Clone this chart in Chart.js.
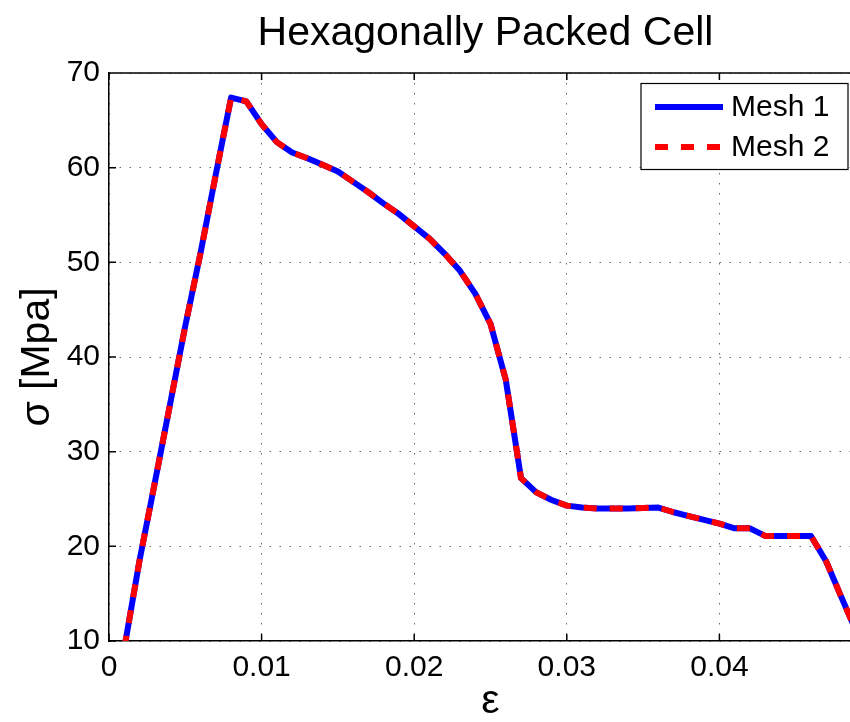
<!DOCTYPE html>
<html>
<head>
<meta charset="utf-8">
<title>Hexagonally Packed Cell</title>
<script src="https://cdn.jsdelivr.net/npm/chart.js@4.4.0/dist/chart.umd.min.js"></script>
<style>
    html, body { margin: 0; padding: 0; background: #fff; overflow: hidden; }
    #wrap { width: 900px; height: 722px; }
</style>
</head>
<body>
<div id="wrap"><canvas id="stress-chart" width="900" height="722"></canvas></div>
<script>
// Strain values (x axis)
const strain = [
    0.001, 0.002, 0.003, 0.004, 0.005, 0.006, 0.007, 0.008, 0.009, 0.010,
    0.011, 0.012, 0.013, 0.014, 0.015, 0.016, 0.017, 0.018, 0.019, 0.020,
    0.021, 0.022, 0.023, 0.024, 0.025, 0.026, 0.027, 0.028, 0.029, 0.030,
    0.031, 0.032, 0.033, 0.034, 0.035, 0.036, 0.037, 0.038, 0.039, 0.040,
    0.041, 0.042, 0.043, 0.044, 0.045, 0.046, 0.047, 0.048, 0.049
];

// Stress [MPa] for each mesh
const mesh1 = [
    9.2, 18.5, 26.7, 35.0, 43.3, 51.0, 59.3, 67.4, 67.0, 64.6,
    62.7, 61.6, 61.0, 60.3, 59.6, 58.5, 57.4, 56.2, 55.1, 53.8,
    52.5, 50.9, 49.1, 46.7, 43.5, 37.6, 27.2, 25.7, 24.9, 24.3,
    24.1, 24.0, 24.0, 24.0, 24.05, 24.1, 23.6, 23.2, 22.8, 22.4,
    21.9, 21.9, 21.1, 21.1, 21.1, 21.1, 18.4, 14.6, 10.9
];
const mesh2 = [
    9.2, 18.5, 26.7, 35.0, 43.3, 51.0, 59.3, 67.4, 67.0, 64.6,
    62.7, 61.6, 61.0, 60.3, 59.6, 58.5, 57.4, 56.2, 55.1, 53.8,
    52.5, 50.9, 49.1, 46.7, 43.5, 37.6, 27.2, 25.7, 24.9, 24.3,
    24.1, 24.0, 24.0, 24.0, 24.05, 24.1, 23.6, 23.2, 22.8, 22.4,
    21.9, 21.9, 21.1, 21.1, 21.1, 21.1, 18.4, 14.6, 10.9
];

const xTicks = [0, 0.01, 0.02, 0.03, 0.04];
const yTicks = [10, 20, 30, 40, 50, 60, 70];
const seriesNames = ['Mesh 1', 'Mesh 2'];
const chartTitle = 'Hexagonally Packed Cell';
const xLabel = 'ε';
const yLabel = 'σ [Mpa]';

const FONT = '"Liberation Sans", Arial, sans-serif';

function toPoints(values) {
    return strain.map((x, i) => ({ x: x, y: values[i] }));
}

// title, top axis line, inward ticks and boxed legend like MATLAB
const matlabAxes = {
    id: 'matlabAxes',
    afterDatasetsDraw(chart) {
        const ctx = chart.ctx;
        const area = chart.chartArea;
        const xs = chart.scales.x;
        const ys = chart.scales.y;
        const tick = 7;

        ctx.save();
        ctx.strokeStyle = '#000';
        ctx.lineWidth = 1.5;
        ctx.beginPath();
        ctx.moveTo(area.left, area.top);
        ctx.lineTo(area.right, area.top);
        ctx.moveTo(area.right, area.top);
        ctx.lineTo(area.right, area.bottom);
        xTicks.forEach(v => {
            const px = xs.getPixelForValue(v);
            ctx.moveTo(px, area.bottom);
            ctx.lineTo(px, area.bottom - tick);
            ctx.moveTo(px, area.top);
            ctx.lineTo(px, area.top + tick);
        });
        yTicks.forEach(v => {
            const py = ys.getPixelForValue(v);
            ctx.moveTo(area.left, py);
            ctx.lineTo(area.left + tick, py);
            ctx.moveTo(area.right, py);
            ctx.lineTo(area.right - tick, py);
        });
        ctx.stroke();

        // title, centred over the axes
        ctx.fillStyle = '#000';
        ctx.font = '41px ' + FONT;
        ctx.textAlign = 'center';
        ctx.textBaseline = 'alphabetic';
        ctx.fillText(chartTitle, (area.left + area.right) / 2 - 5, 45);

        // legend box (north east)
        const boxRight = area.right - 24;
        const boxLeft = boxRight - 207;
        const boxTop = area.top + 10.5;
        const boxH = 86;
        ctx.fillStyle = '#fff';
        ctx.fillRect(boxLeft, boxTop, boxRight - boxLeft, boxH);
        ctx.lineWidth = 1.2;
        ctx.strokeStyle = '#000';
        ctx.strokeRect(boxLeft, boxTop, boxRight - boxLeft, boxH);

        ctx.font = '30px ' + FONT;
        ctx.textAlign = 'left';
        ctx.textBaseline = 'middle';
        chart.data.datasets.forEach((ds, i) => {
            const cy = boxTop + 23.5 + i * 40;
            ctx.save();
            ctx.strokeStyle = ds.borderColor;
            ctx.lineWidth = ds.borderWidth;
            ctx.setLineDash(ds.borderDash || []);
            ctx.beginPath();
            ctx.moveTo(boxLeft + 14, cy);
            ctx.lineTo(boxLeft + 82, cy);
            ctx.stroke();
            ctx.restore();
            ctx.fillStyle = '#000';
            ctx.fillText(ds.label, boxLeft + 90, cy + 1);
        });
        ctx.restore();
    }
};

const ctx = document.getElementById('stress-chart').getContext('2d');

new Chart(ctx, {
    type: 'line',
    data: {
        datasets: [{
            label: seriesNames[0],
            data: toPoints(mesh1),
            borderColor: '#0000ff',
            borderWidth: 6,
            pointRadius: 0,
            tension: 0,
            borderJoinStyle: 'round',
            order: 2,
            clip: 0
        }, {
            label: seriesNames[1],
            data: toPoints(mesh2),
            borderColor: '#ff0000',
            borderWidth: 6,
            borderDash: [13, 13],
            pointRadius: 0,
            tension: 0,
            borderJoinStyle: 'round',
            order: 1,
            clip: 0
        }]
    },
    options: {
        responsive: false,
        animation: false,
        layout: { padding: { top: 73, right: 28, left: 0, bottom: 0 } },
        plugins: {
            legend: { display: false },
            tooltip: { enabled: false },
            title: { display: false }
        },
        scales: {
            x: {
                type: 'linear',
                min: 0,
                max: 0.05,
                afterBuildTicks: s => { s.ticks = xTicks.map(v => ({ value: v })); },
                afterFit: s => { s.height = 81; s.paddingLeft = 0; s.paddingRight = 0; },
                ticks: {
                    color: '#000',
                    padding: 9,
                    maxRotation: 0,
                    font: { family: FONT, size: 30, lineHeight: 1.2 },
                    callback: v => String(v)
                },
                grid: { color: 'rgba(0,0,0,0.6)', lineWidth: 1, drawTicks: false },
                border: { display: true, color: '#000', width: 1.5, dash: [1.5, 8.5] },
                title: {
                    display: true,
                    text: xLabel,
                    color: '#000',
                    font: { family: FONT, size: 41, lineHeight: 1 },
                    padding: { top: 0, bottom: 0 }
                }
            },
            y: {
                type: 'linear',
                min: 10,
                max: 70,
                afterBuildTicks: s => { s.ticks = yTicks.map(v => ({ value: v })); },
                afterFit: s => { s.width = 109; s.paddingTop = 0; s.paddingBottom = 0; },
                ticks: {
                    color: '#000',
                    padding: 9,
                    font: { family: FONT, size: 30, lineHeight: 1.2 },
                    callback: v => String(v)
                },
                grid: { color: 'rgba(0,0,0,0.6)', lineWidth: 1, drawTicks: false },
                border: { display: true, color: '#000', width: 1.5, dash: [1.5, 8.5] },
                title: {
                    display: true,
                    text: yLabel,
                    color: '#000',
                    font: { family: FONT, size: 41, lineHeight: 1 },
                    padding: { top: 17, bottom: 0 }
                }
            }
        }
    },
    plugins: [matlabAxes]
});
</script>
</body>
</html>
